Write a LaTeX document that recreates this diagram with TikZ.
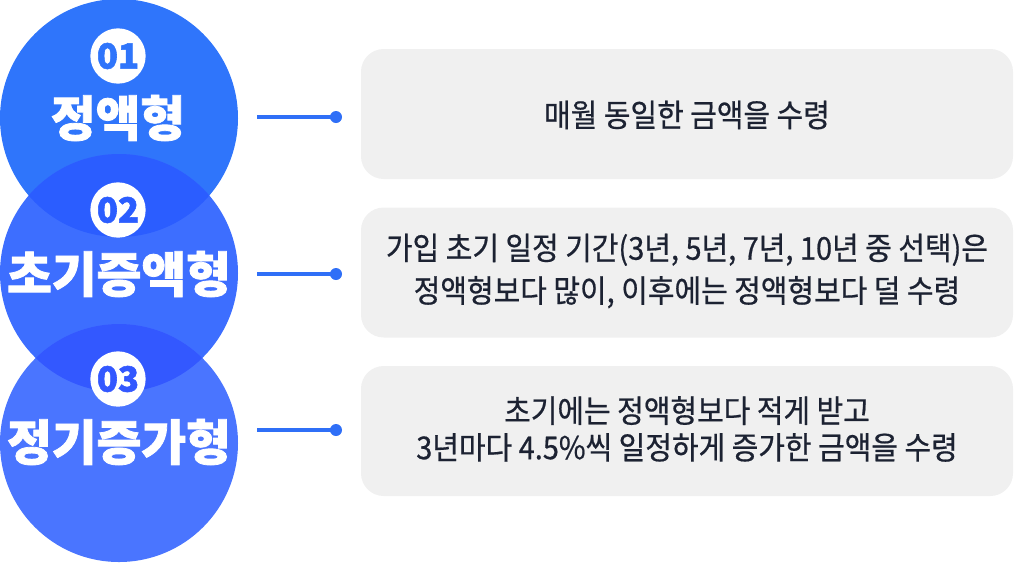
\documentclass[tikz,border=0pt]{standalone}
\usepackage{fontspec}
\newfontfamily\krbody{Noto Sans CJK KR}[FakeStretch=0.92,FakeBold=0.6]
\newfontfamily\krtitle{Noto Sans CJK KR}[BoldFeatures={FakeBold=1.6}]
\definecolor{cA}{HTML}{2F75FB}
\definecolor{cB}{HTML}{3D6EFF}
\definecolor{cC}{HTML}{4A75FF}
\definecolor{lensAB}{HTML}{2B5DFF}
\definecolor{lensBC}{HTML}{3358FF}
\definecolor{boxgray}{HTML}{F0F0F0}
\definecolor{txt}{HTML}{1C2232}
\definecolor{lineblue}{HTML}{2F6FF7}
\begin{document}
\begin{tikzpicture}[x=0.75pt,y=-0.75pt,
  infobox/.style={fill=boxgray,rounded corners=17pt},
  badge/.style={circle,fill=white,minimum size=41.5pt,inner sep=0pt,font=\krtitle\bfseries\fontsize{26}{26}\selectfont},
  titletext/.style={text=white,font=\krtitle\bfseries\fontsize{36.5}{36.5}\selectfont,inner sep=0pt},
  bodytext/.style={text=txt,font=\krbody\fontsize{23.6}{28}\selectfont,align=center,inner sep=0pt},
  conn/.style={draw=lineblue,line width=3pt},
  dotend/.style={circle,fill=lineblue,minimum size=9pt,inner sep=0pt}]
\useasboundingbox (0,0) rectangle (1017,562);
% circles
\fill[cA] (119,118) circle (119);
\fill[cB] (119,273) circle (119);
\begin{scope}
  \clip (119,118) circle (119);
  \fill[lensAB] (119,273) circle (119);
\end{scope}
\fill[cC] (119,443) circle (119);
\begin{scope}
  \clip (119,273) circle (119);
  \fill[lensBC] (119,443) circle (119);
\end{scope}
% badges
\node[badge,text=cA] (b1) at (118,56) {01};
\node[badge,text=lensAB] (b2) at (118,210) {02};
\node[badge,text=lensBC] (b3) at (118,379) {03};
% titles
\node[titletext] (t1) at (118,118) {정액형};
\node[titletext] (t2) at (119,274) {초기증액형};
\node[titletext] (t3) at (119,442) {정기증가형};
% boxes
\fill[infobox] (361,49) rectangle (1013,179);
\fill[infobox] (361,207.5) rectangle (1013,337.5);
\fill[infobox] (361,366) rectangle (1013,496);
\node[bodytext] (d1) at (687,115) {매월 동일한 금액을 수령};
\node[bodytext,font=\krbody\fontsize{23.6}{32}\selectfont] (d2) at (687,271) {가입 초기 일정 기간(3년, 5년, 7년, 10년 중 선택)은\\ 정액형보다 많이, 이후에는 정액형보다 덜 수령};
\node[bodytext,font=\krbody\fontsize{23.6}{27.5}\selectfont] (d3) at (687,429) {초기에는 정액형보다 적게 받고\\3년마다 4.5\%씩 일정하게 증가한 금액을 수령};
% connectors
\coordinate (s1) at (257,117);
\coordinate (s2) at (257,274);
\coordinate (s3) at (257,430);
\node[dotend] (e1) at (336,117) {};
\node[dotend] (e2) at (336,274) {};
\node[dotend] (e3) at (336,430) {};
\draw[conn] (s1) -- (e1.center);
\draw[conn] (s2) -- (e2.center);
\draw[conn] (s3) -- (e3.center);
\end{tikzpicture}
\end{document}
